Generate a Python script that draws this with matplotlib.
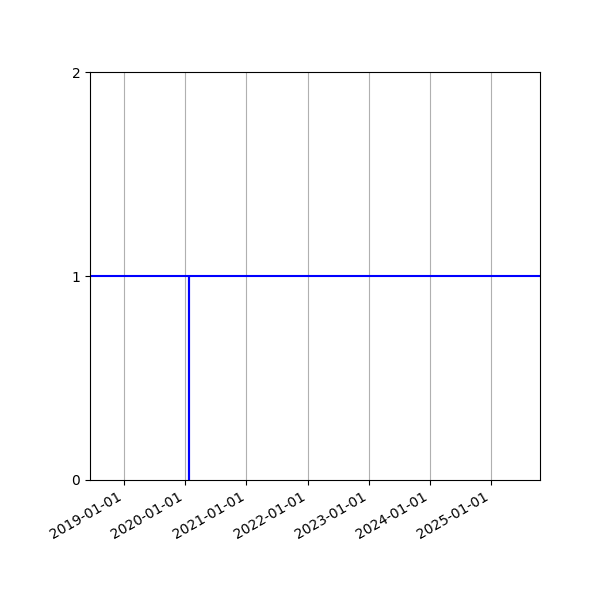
import matplotlib
matplotlib.use('Agg')
import matplotlib.pyplot as plt
import matplotlib.dates as mdates
import numpy as np

# dates of the series and the value at each date
dates = np.array(['2018-06-12', '2020-01-25', '2020-01-25', '2020-01-25', '2025-10-20'],
                 dtype='datetime64[D]')
values = [1, 1, 0, 1, 1]
year_ticks = np.array(['2019-01-01', '2020-01-01', '2021-01-01', '2022-01-01',
                       '2023-01-01', '2024-01-01', '2025-01-01'], dtype='datetime64[D]')
y_ticks = [0, 1, 2]

fig, ax = plt.subplots(figsize=(6, 6), dpi=100)
ax.plot(dates, values, color='blue', linewidth=1.5)

ax.set_xlim(dates[0], dates[-1])
ax.set_ylim(0, 2)
ax.set_yticks(y_ticks)
ax.set_xticks(year_ticks)
ax.xaxis.set_major_formatter(mdates.DateFormatter('%Y-%m-%d'))
ax.grid(True, axis='x')

fig.autofmt_xdate()
fig.subplots_adjust(left=0.15, right=0.9, top=0.88, bottom=0.2)
fig.savefig('out.png')
